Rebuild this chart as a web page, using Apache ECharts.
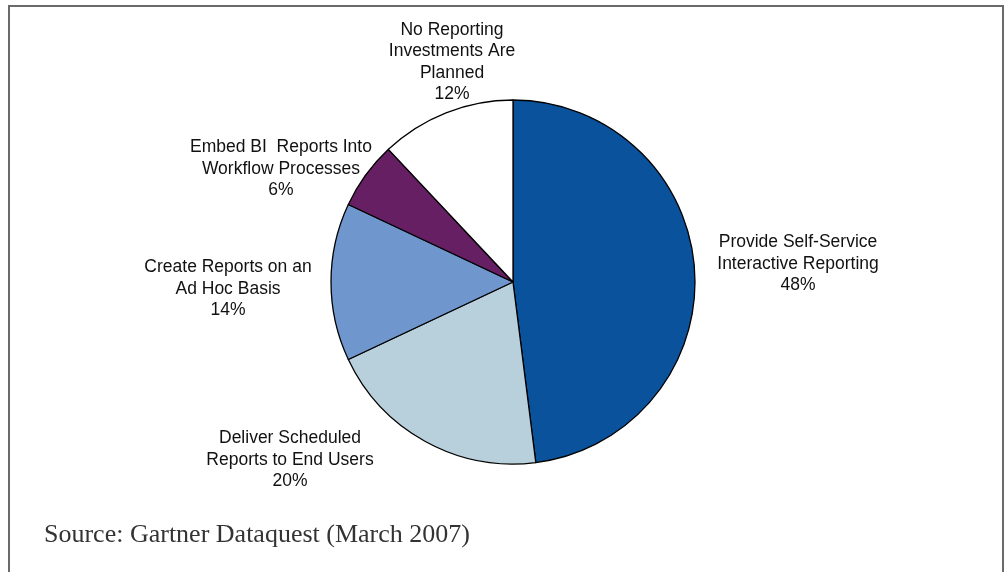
<!DOCTYPE html>
<html>
<head>
<meta charset="utf-8">
<script src="https://cdn.jsdelivr.net/npm/echarts@6/dist/echarts.min.js"></script>
<style>
html,body{margin:0;padding:0;background:#fff;}
#chart{width:1007px;height:572px;}
</style>
</head>
<body>
<div id="chart"></div>
<script>
const categories = [
  'Provide Self-Service\nInteractive Reporting',
  'Deliver Scheduled\nReports to End Users',
  'Create Reports on an\nAd Hoc Basis',
  'Embed BI  Reports Into\nWorkflow Processes',
  'No Reporting\nInvestments Are\nPlanned'
];
const values = [48, 20, 14, 6, 12];
const colors = ['#0A529C', '#B8CFDC', '#7097CD', '#651F62', '#FFFFFF'];
const sourceText = 'Source: Gartner Dataquest (March 2007)';
// label anchor positions (layout only)
const labelPos = [[798, 264], [290, 460], [228, 289], [281, 169], [452, 62]];

const chart = echarts.init(document.getElementById('chart'), null, {renderer: 'canvas'});
chart.setOption({
  animation: false,
  backgroundColor: '#fff',
  graphic: [
    {type: 'rect', shape: {x: 9, y: 6, width: 994, height: 620},
     style: {fill: 'none', stroke: '#6a6a6a', lineWidth: 2}, silent: true},
    {type: 'text', left: 44, top: 522,
     style: {text: sourceText, fontFamily: '"Liberation Serif", "Times New Roman", serif',
             fontSize: 26, fill: '#333'}}
  ],
  series: [{
    type: 'pie',
    center: [513, 282],
    radius: [0, 182],
    startAngle: 90,
    clockwise: true,
    avoidLabelOverlap: false,
    data: categories.map((c, i) => ({name: c, value: values[i], itemStyle: {color: colors[i]}})),
    itemStyle: {borderColor: '#000', borderWidth: 1.3},
    label: {
      show: true,
      position: 'outside',
      formatter: '{b}\n{d}%',
      fontFamily: '"Liberation Sans", Arial, sans-serif',
      fontSize: 17.5,
      lineHeight: 21.5,
      color: '#111',
      align: 'center'
    },
    labelLine: {show: false},
    labelLayout: function (p) {
      const pos = labelPos[p.dataIndex];
      return {x: pos[0], y: pos[1], align: 'center', verticalAlign: 'middle'};
    },
    emphasis: {disabled: true}
  }]
});
</script>
</body>
</html>
